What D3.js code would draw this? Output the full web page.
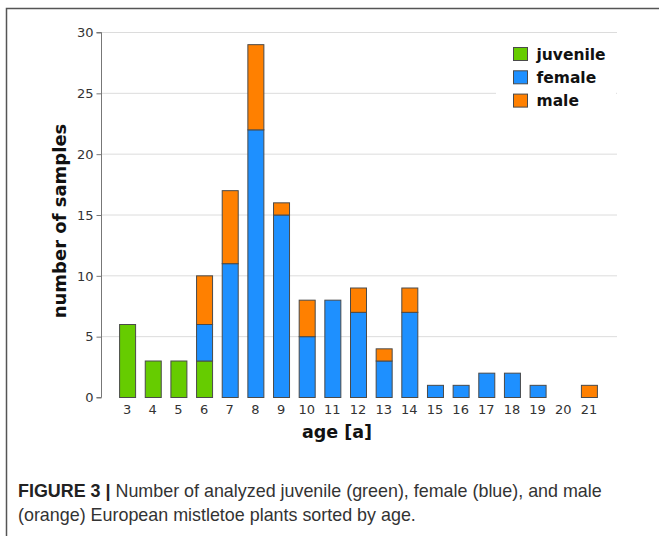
<!DOCTYPE html>
<html>
<head>
<meta charset="utf-8">
<script src="https://cdn.jsdelivr.net/npm/d3@7"></script>
<style>
  html, body { margin: 0; padding: 0; background: #fff; }
  svg { display: block; }
</style>
</head>
<body>
<svg id="chart" width="659" height="536"></svg>
<script>
const ages = ["3","4","5","6","7","8","9","10","11","12","13","14","15","16","17","18","19","20","21"];
const juvenile = [6,3,3,3,0,0,0,0,0,0,0,0,0,0,0,0,0,0,0];
const female   = [0,0,0,3,11,22,15,5,8,7,3,7,1,1,2,2,1,0,0];
const male     = [0,0,0,4,6,7,1,3,0,2,1,2,0,0,0,0,0,0,1];
const seriesNames = ["juvenile","female","male"];
const seriesColors = ["#66cc00","#1e90ff","#ff8000"];
const yTicks = [0,5,10,15,20,25,30];

const svg = d3.select("#chart");

// frame
svg.append("path").attr("d","M6.5,536 V8.5 H659")
  .attr("fill","none").attr("stroke","#555").attr("stroke-width",1.5);

const x = d3.scaleBand().domain(ages).range([114.2, 601.8]).paddingInner(0.375).paddingOuter(0.19);
const y = d3.scaleLinear().domain([0,30]).range([397,32]);

// gridlines
svg.append("g").selectAll("line").data(yTicks.filter(d=>d>0)).join("line")
  .attr("x1",101).attr("x2",617)
  .attr("y1",d=>y(d)+0.5).attr("y2",d=>y(d)+0.5)
  .attr("stroke","#dcdcdc").attr("stroke-width",1);

const table = ages.map((a,i)=>({age:a, juvenile:juvenile[i], female:female[i], male:male[i]}));
const stack = d3.stack().keys(seriesNames)(table);

const bw = 16;
svg.append("g").selectAll("g").data(stack).join("g")
  .attr("fill",(d,i)=>seriesColors[i])
  .selectAll("rect").data(d=>d.filter(s=>s[1]-s[0]>0)).join("rect")
  .attr("x",d=>x(d.data.age)+x.bandwidth()/2-bw/2+0.5)
  .attr("y",d=>y(d[1])+0.5)
  .attr("width",bw)
  .attr("height",d=>y(d[0])-y(d[1]))
  .attr("stroke","#4a4a4a").attr("stroke-width",1);

// y axis
const yAxis = d3.axisLeft(y).tickValues(yTicks).tickSize(5).tickPadding(3);
const gy = svg.append("g").attr("transform","translate(101.5,0.5)").call(yAxis);
gy.select(".domain").attr("stroke","#777").attr("d","M-5,32V32H0V397H-5");
gy.selectAll(".tick line").attr("stroke","#777");
gy.selectAll(".tick text").attr("font-family","DejaVu Sans, Verdana, sans-serif").attr("font-size",13).attr("fill","#333");

// x axis labels
const xAxis = d3.axisBottom(x).tickSize(0).tickPadding(8);
const gx = svg.append("g").attr("transform","translate(0,397)").call(xAxis);
gx.select(".domain").remove();
gx.selectAll(".tick text").attr("font-family","DejaVu Sans, Verdana, sans-serif").attr("font-size",13).attr("fill","#333");

// axis titles
svg.append("text").attr("x",337).attr("y",438).attr("text-anchor","middle")
  .attr("font-family","DejaVu Sans, Verdana, sans-serif").attr("font-weight","bold")
  .attr("font-size",17.5).attr("fill","#111").text("age [a]");
svg.append("text").attr("transform","translate(66,221) rotate(-90)").attr("text-anchor","middle")
  .attr("font-family","DejaVu Sans, Verdana, sans-serif").attr("font-weight","bold")
  .attr("font-size",18).attr("fill","#111").text("number of samples");

// legend
const lg = svg.append("g");
lg.append("rect").attr("x",496).attr("y",40).attr("width",120).attr("height",72).attr("fill","#fff");
const items = lg.selectAll("g").data(seriesNames).join("g")
  .attr("transform",(d,i)=>`translate(513.5,${47.5+i*23.3})`);
items.append("rect").attr("width",14).attr("height",13)
  .attr("fill",(d,i)=>seriesColors[i]).attr("stroke","#4a4a4a").attr("stroke-width",1);
items.append("text").attr("x",23).attr("y",12)
  .attr("font-family","DejaVu Sans, Verdana, sans-serif").attr("font-weight","bold")
  .attr("font-size",15.5).attr("fill","#111").text(d=>d);

// caption
const cap = svg.append("text").attr("font-family","'Liberation Sans', Arial, sans-serif")
  .attr("font-size",17.9).attr("fill","#333");
const l1 = cap.append("tspan").attr("x",18).attr("y",497);
l1.append("tspan").attr("font-weight","bold").attr("fill","#222").text("FIGURE 3 | ");
l1.append("tspan").text("Number of analyzed juvenile (green), female (blue), and male");
cap.append("tspan").attr("x",18).attr("y",521).text("(orange) European mistletoe plants sorted by age.");
</script>
</body>
</html>
